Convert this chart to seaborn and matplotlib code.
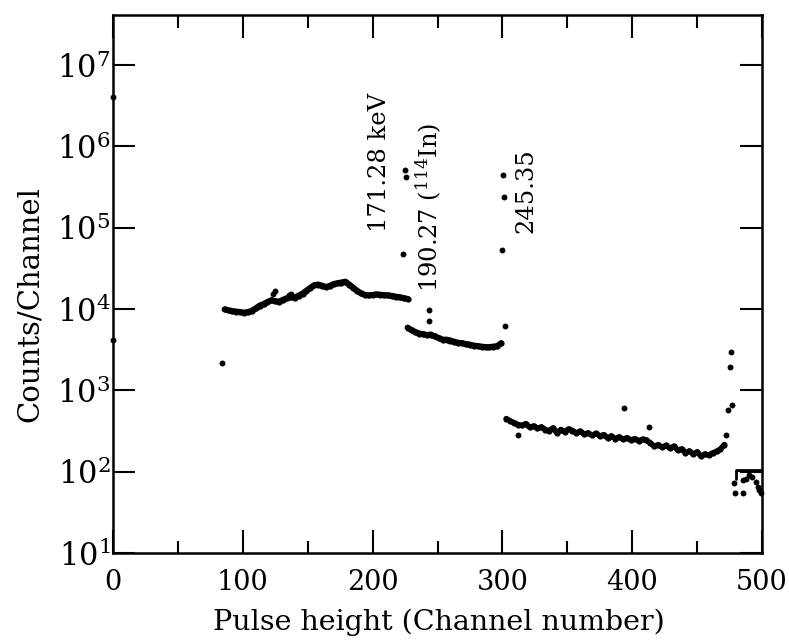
import matplotlib
matplotlib.use("Agg")
import matplotlib.pyplot as plt
from matplotlib.ticker import NullLocator
import pandas as pd
import seaborn as sns

# Continuous stretches of the pulse-height spectrum
seg1_channel = [86, 89, 92, 95, 98, 101, 104, 107, 110, 113, 116, 119, 122, 125, 128, 131,
                134, 137, 140, 143, 146, 149, 152, 155, 158, 161, 164, 167, 170, 173, 176,
                179, 182, 185, 188, 191, 194, 197, 200, 203, 206, 209, 212, 215, 218, 221,
                224, 227]
seg1_counts = [9900, 9600, 9400, 9300, 9200, 9000, 9200, 9500, 10200, 11000, 11500, 12200,
               12800, 12500, 12300, 13000, 13600, 14000, 13800, 14600, 15500, 16800, 18200,
               19600, 20000, 19400, 18700, 19200, 20300, 20800, 21200, 21700, 20000, 18300,
               16800, 15600, 14900, 14700, 14900, 15100, 15000, 14800, 14700, 14500, 14200,
               13900, 13600, 13300]

seg2_channel = [227, 230, 233, 236, 239, 242, 245, 248, 251, 254, 257, 260, 263, 266, 269,
                272, 275, 278, 281, 284, 287, 290, 293, 296, 299]
seg2_counts = [5900, 5500, 5200, 5000, 4900, 4800, 4850, 4600, 4400, 4200, 4200, 4100, 3950,
               3850, 3800, 3700, 3650, 3550, 3500, 3450, 3400, 3400, 3450, 3500, 3800]

seg3_channel = [303, 306, 309, 312, 315, 318, 321, 324, 327, 330, 333, 336, 339, 342, 345,
                348, 351, 354, 357, 360, 363, 366, 369, 372, 375, 378, 381, 384, 387, 390,
                393, 396, 399, 402, 405, 408, 411, 414, 417, 420, 423, 426, 429, 432, 435,
                438, 441, 444, 447, 450, 453, 456, 459, 462, 465, 468, 471]
seg3_counts = [450, 420, 400, 380, 370, 390, 350, 365, 340, 355, 330, 320, 345, 300, 330,
               310, 335, 320, 300, 315, 290, 300, 280, 295, 275, 285, 260, 275, 255, 268,
               250, 262, 245, 255, 240, 250, 245, 225, 205, 215, 200, 210, 195, 205, 185,
               190, 170, 180, 165, 175, 155, 165, 160, 170, 178, 190, 215]

# Individual channels (peaks, stray counts)
dot_channel = [0, 0, 84, 123.5, 125, 135.5, 137, 223.8, 224.6, 225.4, 243.3, 243.8,
               299.7, 300.8, 301.5, 302.3, 312, 394, 412.6,
               472.5, 474, 475.5, 476, 477,
               478.5, 479, 485, 485, 488, 490, 492.5, 495, 497, 498, 499]
dot_counts = [4.1e6, 4200, 2200, 15500, 16800, 14800, 15200, 48000, 510000, 420000, 7100, 9600,
              53000, 450000, 240000, 6200, 280, 600, 357,
              280, 570, 1950, 3000, 660,
              72, 54, 79, 54, 82, 90, 87, 75, 65, 59, 55]

# Overflow bracket at the top end of the range
edge_channel = [480, 480, 500]
edge_counts = [82, 105, 105]

# Peak energies
peak_labels = ["171.28 keV", r"190.27 ($^{114}$In)", "245.35"]
peak_label_channel = [205.4, 243.8, 317.7]
peak_label_counts = [6.3e5, 1.77e5, 2.87e5]

sns.set_style("ticks")
plt.rcParams["font.family"] = ["DejaVu Serif"]
plt.rcParams["mathtext.fontset"] = "dejavuserif"

fig = plt.figure(figsize=(7.89, 6.40), dpi=100)
ax = fig.add_axes([0.1432, 0.1359, 0.8226, 0.8406])
ax.set_yscale("log")

for ch, cts, lw in [(seg1_channel, seg1_counts, 4.4),
                    (seg2_channel, seg2_counts, 4.4),
                    (seg3_channel, seg3_counts, 4.0)]:
    df = pd.DataFrame({"channel": ch, "counts": cts})
    sns.lineplot(data=df, x="channel", y="counts", color="black", linewidth=lw,
                 marker="o", markersize=4.5, markeredgewidth=0, estimator=None,
                 sort=False, ax=ax)

dots = pd.DataFrame({"channel": dot_channel, "counts": dot_counts})
sns.scatterplot(data=dots, x="channel", y="counts", color="black", s=18,
                linewidth=0, ax=ax, clip_on=False, zorder=3)

edge = pd.DataFrame({"channel": edge_channel, "counts": edge_counts})
sns.lineplot(data=edge, x="channel", y="counts", color="black", linewidth=2.0,
             estimator=None, sort=False, ax=ax)

for txt, cx, cy in zip(peak_labels, peak_label_channel, peak_label_counts):
    ax.text(cx, cy, txt, rotation=90, ha="center", va="center", fontsize=17.5,
            color="black")

ax.set_xlim(0, 500)
ax.set_ylim(10, 10 ** 7.615)
ax.set_xticks([0, 100, 200, 300, 400, 500])
ax.set_xticks([50, 150, 250, 350, 450], minor=True)
ax.set_yticks([10 ** k for k in range(1, 8)])
ax.yaxis.set_minor_locator(NullLocator())

ax.tick_params(axis="both", which="both", direction="in", top=True, right=True,
               colors="black")
ax.tick_params(axis="x", which="major", length=16.5, width=1.5, pad=11.5, labelsize=19.5)
ax.tick_params(axis="x", which="minor", length=9, width=1.5)
ax.tick_params(axis="y", which="major", length=16, width=1.5, pad=2, labelsize=22)

for sp in ax.spines.values():
    sp.set_visible(True)
    sp.set_linewidth(1.8)
    sp.set_edgecolor("black")

ax.set_xlabel("Pulse height (Channel number)", fontsize=20.5, color="black")
ax.set_ylabel("Counts/Channel", fontsize=21, color="black")
ax.xaxis.set_label_coords(0.502, -0.104)
ax.yaxis.set_label_coords(-0.106, 0.463)

fig.savefig("out.png", dpi=100, facecolor="white")
